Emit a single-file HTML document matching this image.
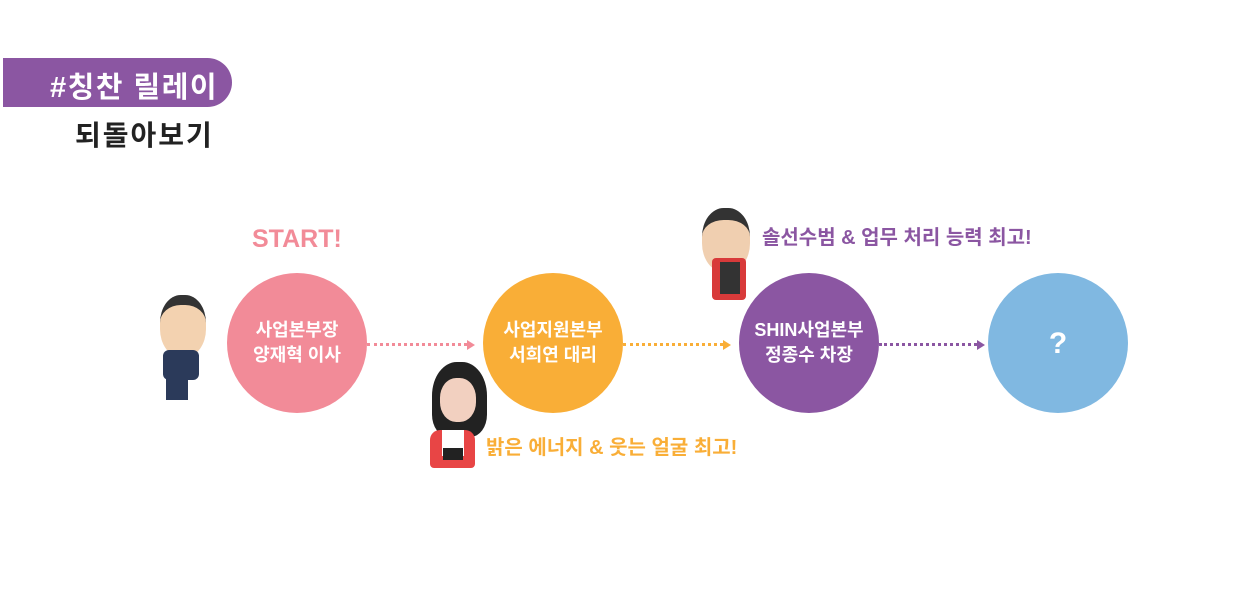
<!DOCTYPE html>
<html><head><meta charset="utf-8"><style>
body{margin:0;width:1234px;height:598px;background:#fff;position:relative;overflow:hidden;font-family:"Liberation Sans","Noto Sans CJK KR",sans-serif;font-weight:bold}
.a{position:absolute}
.c{position:absolute;width:140px;height:140px;border-radius:50%;color:#fff;display:flex;align-items:center;justify-content:center;text-align:center;font-size:18px;line-height:25px;letter-spacing:0px}
.d{position:absolute;height:0;border-top:3px dotted}
.ar{position:absolute;width:0;height:0;border-top:5px solid transparent;border-bottom:5px solid transparent;border-left:8px solid}
</style></head><body>
<div class="a" style="left:3px;top:58px;width:229px;height:49px;background:#8b56a2;border-radius:0 25px 25px 0"></div>
<div class="a" style="left:50px;top:64px;color:#fff;font-size:29px;letter-spacing:1.5px">#칭찬 릴레이</div>
<div class="a" style="left:75px;top:114px;color:#222;font-size:28px;letter-spacing:2px">되돌아보기</div>

<div class="a" style="left:252px;top:225px;color:#f28b98;font-size:25px;letter-spacing:0px">START!</div>

<div class="c" style="left:227px;top:273px;background:#f28b98">사업본부장<br>양재혁 이사</div>
<div class="c" style="left:483px;top:273px;background:#f9ae37">사업지원본부<br>서희연 대리</div>
<div class="c" style="left:739px;top:273px;background:#8b56a2">SHIN사업본부<br>정종수 차장</div>
<div class="c" style="left:988px;top:273px;background:#80b8e1;font-size:30px">?</div>

<div class="d" style="left:367px;top:343px;width:100px;border-color:#f28b98"></div>
<div class="ar" style="left:467px;top:340px;border-left-color:#f28b98"></div>
<div class="d" style="left:623px;top:343px;width:100px;border-color:#f9ae37"></div>
<div class="ar" style="left:723px;top:340px;border-left-color:#f9ae37"></div>
<div class="d" style="left:879px;top:343px;width:98px;border-color:#8b56a2"></div>
<div class="ar" style="left:977px;top:340px;border-left-color:#8b56a2"></div>

<div class="a" style="left:160px;top:295px;width:46px;height:52px;border-radius:45%;background:#f3d2b0;border-top:10px solid #333"></div>
<div class="a" style="left:163px;top:350px;width:36px;height:30px;background:#2b3a5a;border-radius:6px"></div>
<div class="a" style="left:166px;top:378px;width:22px;height:22px;background:#2b3a5a"></div>

<div class="a" style="left:432px;top:362px;width:55px;height:75px;border-radius:45% 45% 30% 30%;background:#222"></div>
<div class="a" style="left:440px;top:378px;width:36px;height:44px;border-radius:45%;background:#f2d0c0"></div>
<div class="a" style="left:430px;top:430px;width:45px;height:38px;background:#e84545;border-radius:10px 10px 4px 4px"></div>
<div class="a" style="left:442px;top:430px;width:22px;height:26px;background:#fff"></div>
<div class="a" style="left:443px;top:448px;width:20px;height:12px;background:#222"></div>
<div class="a" style="left:486px;top:431px;color:#f9ae37;font-size:20px;letter-spacing:0px">밝은 에너지 &amp; 웃는 얼굴 최고!</div>

<div class="a" style="left:702px;top:208px;width:48px;height:52px;border-radius:45%;background:#f0cfb0;border-top:12px solid #333"></div>
<div class="a" style="left:712px;top:258px;width:34px;height:42px;background:#d83a3a;border-radius:4px"></div>
<div class="a" style="left:720px;top:262px;width:20px;height:32px;background:#333"></div>
<div class="a" style="left:762px;top:221px;color:#8b56a2;font-size:20px;letter-spacing:0px">솔선수범 &amp; 업무 처리 능력 최고!</div>
</body></html>
